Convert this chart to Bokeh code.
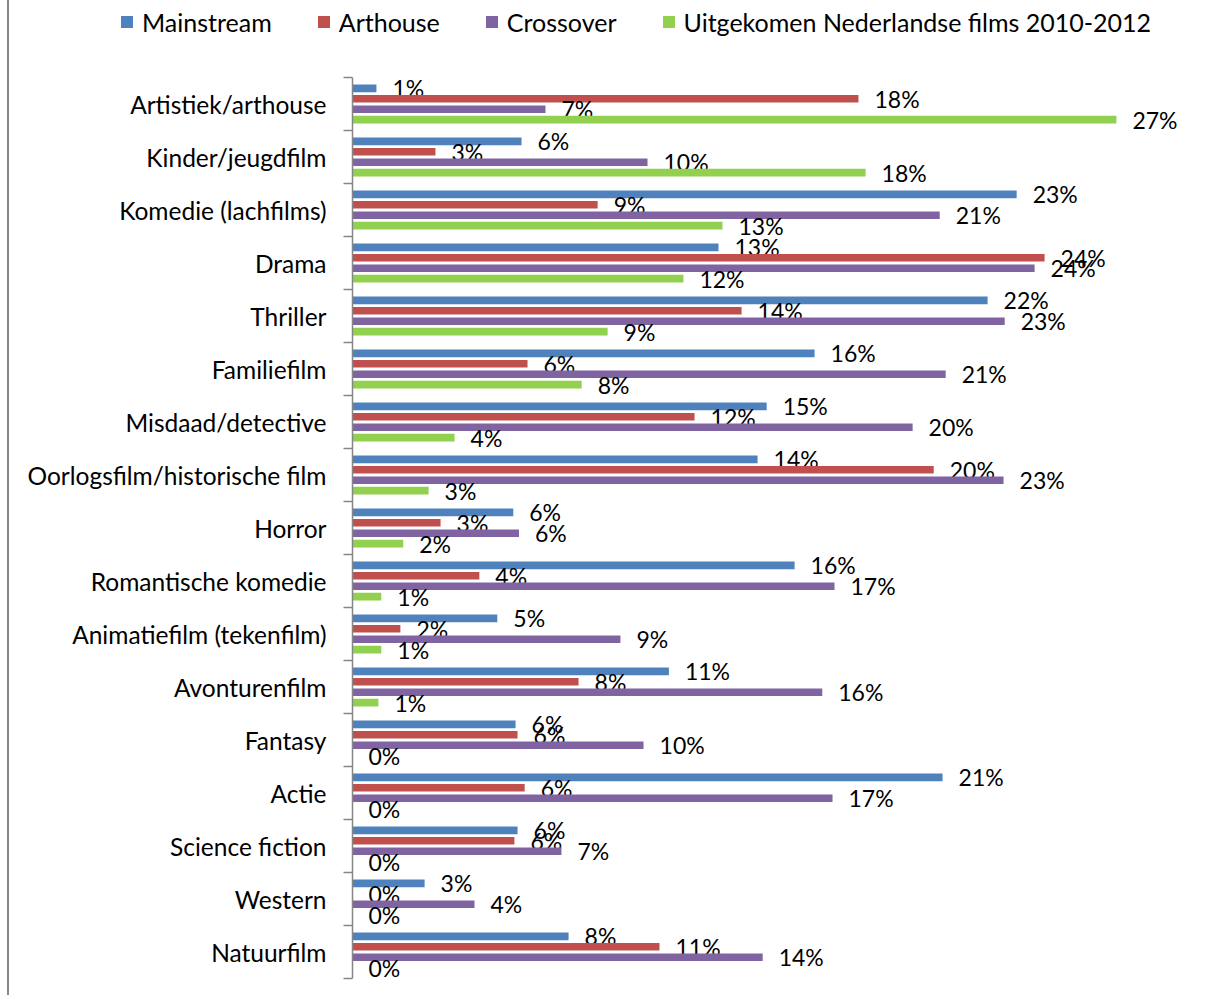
from bokeh.plotting import figure
from bokeh.models import ColumnDataSource, Range1d, FixedTicker, Spacer, Div
from bokeh.layouts import row, column
from bokeh.core.properties import value
from bokeh.embed import file_html
from bokeh.resources import INLINE

categories = ["Artistiek/arthouse", "Kinder/jeugdfilm", "Komedie (lachfilms)", "Drama",
              "Thriller", "Familiefilm", "Misdaad/detective", "Oorlogsfilm/historische film",
              "Horror", "Romantische komedie", "Animatiefilm (tekenfilm)", "Avonturenfilm",
              "Fantasy", "Actie", "Science fiction", "Western", "Natuurfilm"]

mainstream = [0.84, 5.93, 23.3, 12.84, 22.28, 16.21, 14.53, 14.21, 5.64, 15.51, 5.08,
              11.1, 5.72, 20.7, 5.79, 2.53, 7.58]
arthouse = [17.75, 2.91, 8.6, 24.28, 13.65, 6.14, 12.0, 20.39, 3.09, 4.45, 1.68,
            7.93, 5.79, 6.04, 5.68, 0.0, 10.77]
crossover = [6.77, 10.35, 20.6, 23.93, 22.88, 20.81, 19.65, 22.84, 5.84, 16.91, 9.4,
             16.48, 10.21, 16.84, 7.33, 4.28, 14.39]
nederlandse = [26.8, 18.0, 12.98, 11.61, 8.95, 8.04, 3.58, 2.67, 1.78, 1.01, 1.01,
               0.91, 0.0, 0.0, 0.0, 0.0, 0.0]

series_names = ["Mainstream", "Arthouse", "Crossover", "Uitgekomen Nederlandse films 2010-2012"]
series_values = [mainstream, arthouse, crossover, nederlandse]
colors = ["#4F81BD", "#C0504D", "#8064A2", "#92D050"]

FONT = "Lato"
FS_AX = "24.5px"
FS_LEG = "25px"
FS_LAB = "23px"
n = len(categories)
pitch = 0.197
bar_h = 0.145
px_per_cat = 53.0
y_lo = -0.5 - 12 / px_per_cat
y_hi = (n - 0.5) + 17 / px_per_cat

p = figure(width=1211, height=935, x_range=Range1d(0, 30.1), y_range=Range1d(y_lo, y_hi),
           output_backend="svg", toolbar_location=None,
           min_border_left=343, min_border_right=10, min_border_top=0, min_border_bottom=5)
p.outline_line_color = None
p.xaxis.visible = False
p.xgrid.visible = False
p.ygrid.visible = False

for j, (name, vals, col) in enumerate(zip(series_names, series_values, colors)):
    ys = [(n - 1 - i) + (1.5 - j) * pitch for i in range(n)]
    labels = [f"{int(v + 0.5)}%" for v in vals]
    src = ColumnDataSource(dict(y=ys, v=vals, lab=labels))
    p.hbar(y="y", right="v", left=0, height=bar_h, source=src,
           fill_color=col, line_color=None)
    p.text(x="v", y="y", text="lab", source=src, x_offset=16, y_offset=0,
           text_align="left", text_baseline="middle", text_font=value(FONT),
           text_font_size=FS_LAB, text_color="#000000")

yax = p.yaxis[0]
yax.bounds = (-0.5, n - 0.5)
yax.ticker = FixedTicker(ticks=list(range(n)), minor_ticks=[k - 0.5 for k in range(n + 1)])
yax.major_label_overrides = {n - 1 - i: c for i, c in enumerate(categories)}
yax.major_tick_line_color = None
yax.major_tick_out = 0
yax.major_tick_in = 0
yax.minor_tick_out = 9
yax.minor_tick_in = 0
yax.minor_tick_line_color = "#868686"
yax.minor_tick_line_width = 1.5
yax.axis_line_color = "#868686"
yax.axis_line_width = 1.5
yax.major_label_standoff = 17
yax.major_label_text_font = FONT
yax.major_label_text_font_size = FS_AX
yax.major_label_text_color = "#000000"

# legend row (HTML) above the chart
items_html = "".join(
    f'<span style="display:inline-flex;align-items:center;margin-right:{0 if k == len(series_names) - 1 else 46}px;">'
    f'<span style="display:inline-block;width:12px;height:12px;background:{c};margin-right:9px;"></span>'
    f'<span>{nm}</span></span>'
    for k, (nm, c) in enumerate(zip(series_names, colors))
)
legend_html = (
    f'<div style="display:flex;align-items:center;height:44px;padding-left:112px;'
    f'font-family:{FONT};font-size:{FS_LEG};color:#000;white-space:nowrap;line-height:1;">'
    f'{items_html}</div>'
)
legend_div = Div(text=legend_html, width=1211, height=60, margin=0)

layout = row(Spacer(width=7, height=995),
             Spacer(width=2, height=995, styles={"background-color": "#868686"}),
             column(legend_div, p))

open("out.html", "w").write(file_html(layout, INLINE))
